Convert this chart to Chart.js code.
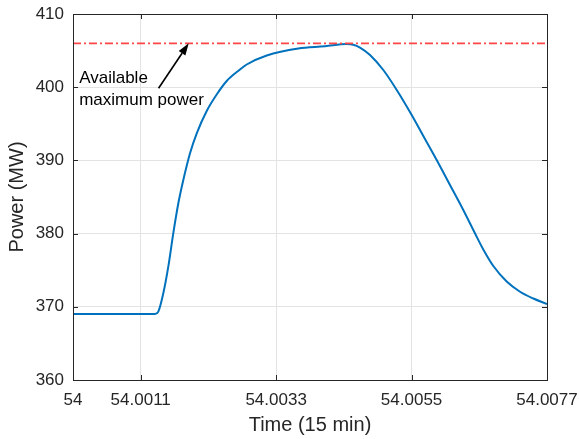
<!DOCTYPE html>
<html>
<head>
<meta charset="utf-8">
<script src="https://cdn.jsdelivr.net/npm/chart.js@4"></script>
<style>
  html, body { margin: 0; padding: 0; background: #fff; }
  #wrap { width: 579px; height: 439px; }
</style>
</head>
<body>
<div id="wrap"><canvas id="powerChart" width="579" height="439"></canvas></div>
<script>
// Time axis (15 min units) and plant output in MW
const timePoints = [
  54.0, 54.001332, 54.001386, 54.001467, 54.001548, 54.001629, 54.001711, 54.001792,
  54.001901, 54.00201, 54.002172, 54.002334, 54.002497, 54.002713, 54.002822, 54.003147,
  54.00366, 54.004094, 54.004446, 54.004553, 54.004662, 54.004825, 54.005041, 54.005259,
  54.005502, 54.005691, 54.005908, 54.006124, 54.00634, 54.00653, 54.006665, 54.006828,
  54.007045, 54.007262, 54.007478, 54.0077
];
const powerValues = [
  369.0, 369.0, 369.33, 371.84, 375.48, 380.04, 384.14, 387.32,
  390.97, 393.7, 396.75, 399.0, 400.85, 402.42, 403.1, 404.33,
  405.29, 405.59, 405.9, 405.81, 405.42, 404.4, 402.35, 399.62,
  396.2, 393.33, 390.05, 386.64, 383.22, 380.04, 377.83, 375.57,
  373.46, 372.06, 371.13, 370.38
];
const maxPowerTimes = [54.0, 54.0077];
const maxPowerValues = [406.0, 406.0];

const xTickLabels = ["54", "54.0011", "54.0033", "54.0055", "54.0077"];
const yTickValues = [360, 370, 380, 390, 400, 410];

const FONT = "Arial, 'Liberation Sans', Helvetica, sans-serif";
const AXIS_COLOR = "#262626";

function toPoints(xs, ys) {
  return xs.map((x, i) => ({ x: x, y: ys[i] }));
}

// keep the plot box where the figure has it, whatever the labels want
function noPadding(scale) {
  scale.paddingLeft = 0;
  scale.paddingRight = 0;
  scale.paddingTop = 0;
  scale.paddingBottom = 0;
}

// Box around the axes with inward tick marks on all four sides (MATLAB look)
const boxPlugin = {
  id: "boxTicks",
  afterDraw(chart) {
    const { ctx, chartArea: a, scales } = chart;
    ctx.save();
    ctx.strokeStyle = AXIS_COLOR;
    ctx.lineWidth = 1;
    ctx.strokeRect(Math.round(a.left) + 0.5, Math.round(a.top) + 0.5,
      Math.round(a.right - a.left), Math.round(a.bottom - a.top));
    const len = 5;
    ctx.beginPath();
    scales.x.ticks.forEach(t => {
      const px = Math.round(scales.x.getPixelForValue(t.value)) + 0.5;
      ctx.moveTo(px, a.bottom); ctx.lineTo(px, a.bottom - len);
      ctx.moveTo(px, a.top); ctx.lineTo(px, a.top + len);
    });
    scales.y.ticks.forEach(t => {
      const py = Math.round(scales.y.getPixelForValue(t.value)) + 0.5;
      ctx.moveTo(a.left, py); ctx.lineTo(a.left + len, py);
      ctx.moveTo(a.right, py); ctx.lineTo(a.right - len, py);
    });
    ctx.stroke();
    ctx.restore();
  }
};

// Text + arrow pointing at the maximum power line
const notePlugin = {
  id: "maxNote",
  afterDatasetsDraw(chart) {
    const { ctx, scales } = chart;
    const x = scales.x, y = scales.y;
    const tx = x.getPixelForValue(54.00139), ty = y.getPixelForValue(399.85);
    const hx = x.getPixelForValue(54.00188), hy = y.getPixelForValue(406.0);
    ctx.save();
    ctx.strokeStyle = "#000";
    ctx.fillStyle = "#000";
    ctx.lineWidth = 1.6;
    const ang = Math.atan2(hy - ty, hx - tx);
    const headLen = 12, headW = 4;
    const bx = hx - headLen * Math.cos(ang), by = hy - headLen * Math.sin(ang);
    ctx.beginPath();
    ctx.moveTo(tx, ty);
    ctx.lineTo(bx, by);
    ctx.stroke();
    ctx.beginPath();
    ctx.moveTo(hx, hy);
    ctx.lineTo(bx + headW * Math.sin(ang), by - headW * Math.cos(ang));
    ctx.lineTo(bx - headW * Math.sin(ang), by + headW * Math.cos(ang));
    ctx.closePath();
    ctx.fill();

    ctx.font = "17px " + FONT;
    ctx.textAlign = "left";
    ctx.textBaseline = "middle";
    const lx = x.getPixelForValue(54.0001);
    ctx.fillText("Available", lx, y.getPixelForValue(401.2));
    ctx.fillText("maximum power", lx, y.getPixelForValue(398.25));
    ctx.restore();
  }
};

const ctx = document.getElementById("powerChart").getContext("2d");
new Chart(ctx, {
  type: "line",
  data: {
    datasets: [
      {
        label: "Available maximum power",
        data: toPoints(maxPowerTimes, maxPowerValues),
        borderColor: "#ff4545",
        borderWidth: 1.8,
        borderDash: [8, 3, 2, 3],
        pointRadius: 0,
        fill: false
      },
      {
        label: "Power",
        data: toPoints(timePoints, powerValues),
        borderColor: "#0072BD",
        borderWidth: 2,
        pointRadius: 0,
        cubicInterpolationMode: "monotone",
        fill: false
      }
    ]
  },
  options: {
    responsive: false,
    animation: false,
    layout: { padding: { top: 14, right: 32, left: 0, bottom: 0 } },
    plugins: { legend: { display: false }, tooltip: { enabled: false } },
    scales: {
      x: {
        type: "linear",
        min: 54,
        max: 54.0077,
        afterBuildTicks: scale => {
          scale.ticks = xTickLabels.map(s => ({ value: parseFloat(s) }));
        },
        afterFit: scale => { scale.height = 59; noPadding(scale); },
        grid: { color: "#e3e3e3", drawTicks: false },
        border: { display: false },
        ticks: {
          padding: 10,
          maxRotation: 0,
          autoSkip: false,
          color: AXIS_COLOR,
          font: { family: FONT, size: 17 },
          callback: (v, i) => xTickLabels[i]
        },
        title: {
          display: true,
          text: "Time (15 min)",
          color: AXIS_COLOR,
          font: { family: FONT, size: 20 },
          padding: { top: 0, bottom: 2 }
        }
      },
      y: {
        min: 360,
        max: 410,
        afterBuildTicks: scale => {
          scale.ticks = yTickValues.map(v => ({ value: v }));
        },
        afterFit: scale => { scale.width = 73; noPadding(scale); },
        grid: { color: "#e3e3e3", drawTicks: false },
        border: { display: false },
        ticks: {
          padding: 9,
          color: AXIS_COLOR,
          font: { family: FONT, size: 17 }
        },
        title: {
          display: true,
          text: "Power (MW)",
          color: AXIS_COLOR,
          font: { family: FONT, size: 20 },
          padding: { top: 5, bottom: 0 }
        }
      }
    }
  },
  plugins: [boxPlugin, notePlugin]
});
</script>
</body>
</html>
